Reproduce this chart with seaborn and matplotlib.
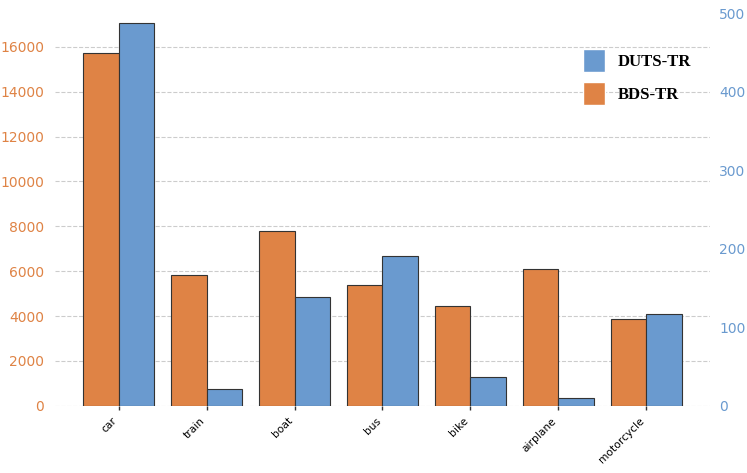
import pandas as pd
import matplotlib
matplotlib.use("Agg")
import matplotlib.pyplot as plt
from matplotlib.patches import Patch
import seaborn as sns

categories = ["car", "train", "boat", "bus", "bike", "airplane", "motorcycle"]
bds_tr = [15730, 5830, 7790, 5380, 4450, 6100, 3870]
duts_tr = [487, 22, 139, 191, 37, 10, 117]
series = ["BDS-TR", "DUTS-TR"]

orange = "#DF8345"
blue = "#6A9ACF"

df_bds = pd.DataFrame({"category": categories, "count": bds_tr, "dataset": "BDS-TR"})
df_duts = pd.DataFrame({"category": categories, "count": duts_tr, "dataset": "DUTS-TR"})

sns.set_style("white")
fig, ax1 = plt.subplots(figsize=(7.47, 4.73), dpi=100)
ax2 = ax1.twinx()

# left axis: BDS-TR, right axis: DUTS-TR, dodged in the same slots
pal = {"BDS-TR": orange, "DUTS-TR": blue}
sns.barplot(data=df_bds, x="category", y="count", hue="dataset", hue_order=series,
            order=categories, palette=pal, dodge=True, saturation=1,
            edgecolor="#333333", linewidth=0.8, ax=ax1, legend=False)
sns.barplot(data=df_duts, x="category", y="count", hue="dataset", hue_order=series,
            order=categories, palette=pal, dodge=True, saturation=1,
            edgecolor="#333333", linewidth=0.8, ax=ax2, legend=False)

ax1.set_ylim(0, 17500)
ax2.set_ylim(0, 500)
ax1.set_xlim(-0.72, 6.72)
ax1.set_yticks(range(0, 16001, 2000))
ax2.set_yticks(range(0, 501, 100))

ax1.yaxis.grid(True, linestyle="--", color="#cccccc", linewidth=0.8)
ax1.set_axisbelow(True)
for ax in (ax1, ax2):
    for s in ax.spines.values():
        s.set_visible(False)
    ax.set_xlabel("")
    ax.set_ylabel("")

ax1.tick_params(axis="y", length=0, labelsize=10, labelcolor=orange, pad=8)
ax2.tick_params(axis="y", length=0, labelsize=10, labelcolor=blue, pad=7)
ax1.set_xticks(range(len(categories)))
ax1.set_xticklabels(categories, rotation=45, ha="right")
ax1.tick_params(axis="x", length=3, width=1, color="#333333", labelsize=7.7,
                labelcolor="black", bottom=True, pad=4)

handles = [Patch(facecolor=blue, edgecolor="white", label="DUTS-TR"),
           Patch(facecolor=orange, edgecolor="white", label="BDS-TR")]
ax2.legend(handles=handles, loc="upper right", bbox_to_anchor=(0.995, 0.948),
           frameon=False, prop={"family": "Liberation Serif", "weight": "bold", "size": 12},
           handlelength=1.3, handleheight=1.75, labelspacing=0.6, handletextpad=0.8,
           labelcolor="black")

plt.subplots_adjust(left=0.074, right=0.950, top=0.972, bottom=0.142)
plt.savefig("out.png")
